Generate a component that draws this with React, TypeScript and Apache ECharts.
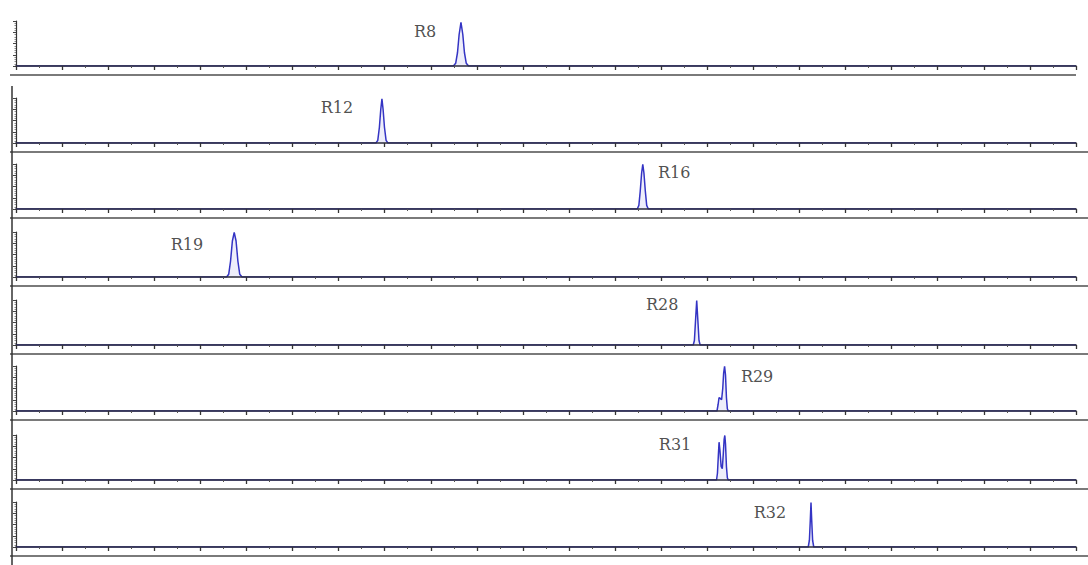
import React, { useEffect, useRef } from "react";
import * as echarts from "echarts";

// Panel names (sample labels)
const panelNames: string[] = ["R8", "R12", "R16", "R19", "R28", "R29", "R31", "R32"];

// Trace points per panel: [position, signal]
const traceR8: number[][] = [[0, 0], [189.8, 0], [190.8, 6], [191.6, 30], [192.3, 70], [193.1, 97], [193.9, 70], [194.6, 30], [195.4, 6], [196.4, 0], [460, 0]];
const traceR12: number[][] = [[0, 0], [156.2, 0], [157.0, 6], [157.7, 35], [158.3, 75], [158.8, 98], [159.3, 75], [159.9, 35], [160.6, 6], [161.4, 0], [460, 0]];
const traceR16: number[][] = [[0, 0], [269.6, 0], [270.3, 8], [270.9, 40], [271.5, 80], [272.0, 99], [272.5, 80], [273.1, 40], [273.7, 8], [274.4, 0], [460, 0]];
const traceR19: number[][] = [[0, 0], [91.4, 0], [92.3, 6], [93.1, 35], [93.9, 80], [94.7, 99], [95.5, 80], [96.3, 35], [97.1, 6], [98.1, 0], [460, 0]];
const traceR28: number[][] = [[0, 0], [293.9, 0], [294.4, 10], [294.9, 55], [295.4, 99], [295.9, 55], [296.4, 10], [296.9, 0], [460, 0]];
const traceR29: number[][] = [[0, 0], [304.2, 0], [304.7, 15], [305.1, 30], [305.6, 28], [306.2, 25], [306.7, 50], [307.1, 85], [307.5, 99], [307.9, 80], [308.3, 30], [308.7, 5], [309.1, 0], [460, 0]];
const traceR31: number[][] = [[0, 0], [304.0, 0], [304.4, 15], [304.8, 55], [305.1, 84], [305.5, 65], [306.0, 30], [306.5, 25], [306.9, 55], [307.3, 90], [307.6, 99], [307.9, 80], [308.3, 30], [308.7, 5], [309.1, 0], [460, 0]];
const traceR32: number[][] = [[0, 0], [343.8, 0], [344.3, 15], [344.7, 60], [345.0, 99], [345.3, 60], [345.7, 15], [346.2, 0], [460, 0]];

const traces: number[][][] = [traceR8, traceR12, traceR16, traceR19, traceR28, traceR29, traceR31, traceR32];

// Label anchor points per panel: [position, signal]
const labelPoints: number[][] = [
  [177.5, 76],
  [139.3, 78],
  [285.6, 82],
  [74.2, 73],
  [280.4, 89],
  [321.6, 76],
  [286.0, 80],
  [327.2, 76],
];

// Axis domain
const xMin = 0;
const xMax = 460;
const xInterval = 20;
const yMin = 0;
const yMax = 100;

const gridTops = [21, 98, 164, 232, 300, 366, 435, 502];
const gridHeight = 45;

export default function App() {
  const ref = useRef<HTMLDivElement>(null);

  useEffect(() => {
    if (!ref.current) return;
    const chart = echarts.init(ref.current, null, { renderer: "svg" });

    const grids: any[] = [];
    const xAxes: any[] = [];
    const yAxes: any[] = [];
    const series: any[] = [];
    const graphics: any[] = [];

    panelNames.forEach((name, i) => {
      grids.push({ left: 16, right: 12, top: gridTops[i], height: gridHeight });
      xAxes.push({
        gridIndex: i,
        type: "value",
        min: xMin,
        max: xMax,
        interval: xInterval,
        z: 5,
        axisLine: { show: true, onZero: false, lineStyle: { color: "#2a2a3a", width: 1.6 } },
        axisTick: { show: true, length: 4, lineStyle: { color: "#333", width: 1.3 } },
        minorTick: { show: true, splitNumber: 2, length: 2, lineStyle: { color: "#555" } },
        axisLabel: { show: false },
        splitLine: { show: false },
      });
      yAxes.push({
        gridIndex: i,
        type: "value",
        min: yMin,
        max: yMax,
        interval: 25,
        axisLine: { show: true, lineStyle: { color: "#333", width: 1.2 } },
        axisTick: { show: true, length: 3, lineStyle: { color: "#444" } },
        minorTick: { show: true, splitNumber: 5, length: 1.5, lineStyle: { color: "#888" } },
        axisLabel: { show: false },
        splitLine: { show: false },
      });
      series.push({
        type: "line",
        xAxisIndex: i,
        yAxisIndex: i,
        data: traces[i],
        showSymbol: false,
        symbol: "none",
        smooth: false,
        lineStyle: { color: "#3434c4", width: 1.5 },
        areaStyle: { color: "rgba(90,90,210,0.15)" },
        silent: true,
        z: 2,
      });
      series.push({
        type: "scatter",
        xAxisIndex: i,
        yAxisIndex: i,
        data: [{ value: labelPoints[i], name }],
        symbolSize: 1,
        itemStyle: { color: "rgba(0,0,0,0)" },
        silent: true,
        label: {
          show: true,
          position: "inside",
          formatter: "{b}",
          fontFamily: "DejaVu Serif",
          fontSize: 16,
          color: "#222",
        },
      });
      const sepY = gridTops[i] + gridHeight + 9;
      graphics.push({
        type: "line",
        shape: { x1: 10, y1: sepY, x2: i === 0 ? 1076 : 1088, y2: sepY },
        style: { stroke: "#7a7a7a", lineWidth: 2.2 },
        silent: true,
      });
    });

    graphics.push({
      type: "line",
      shape: { x1: 12, y1: 86, x2: 12, y2: 565 },
      style: { stroke: "#333", lineWidth: 1.5 },
      silent: true,
    });

    chart.setOption({
      animation: false,
      backgroundColor: "#ffffff",
      grid: grids,
      xAxis: xAxes,
      yAxis: yAxes,
      series,
      graphic: graphics,
    });

    return () => chart.dispose();
  }, []);

  return (
    <div
      ref={ref}
      style={{ position: "fixed", left: 0, top: 0, width: 1088, height: 565 }}
    />
  );
}
